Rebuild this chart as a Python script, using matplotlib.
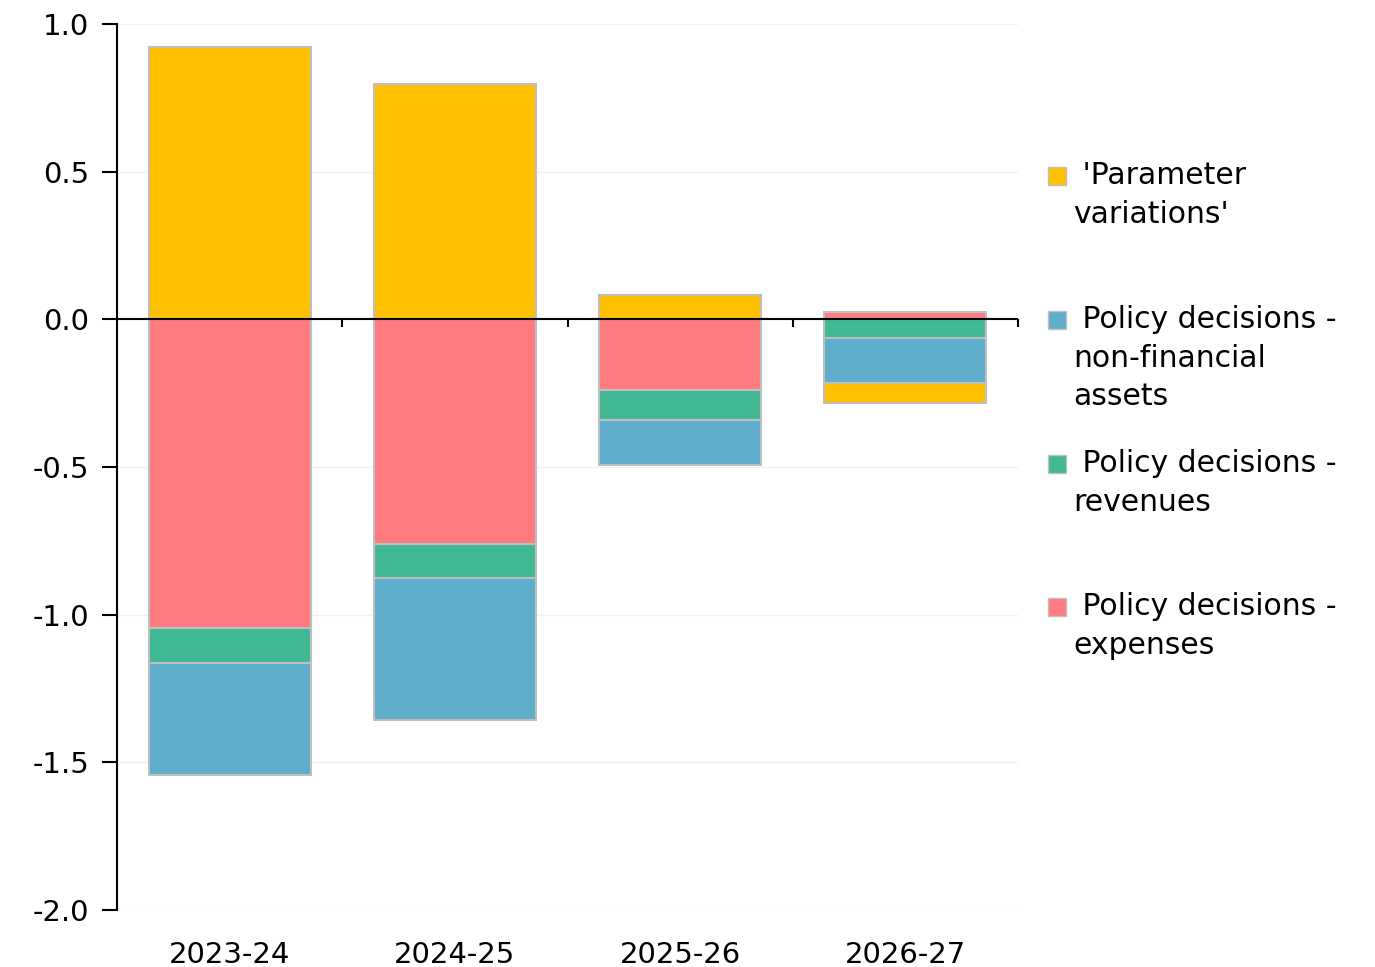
import numpy as np
import matplotlib.pyplot as plt
from matplotlib.patches import Rectangle

plt.rcParams['font.family'] = ['DejaVu Sans']

years = ['2023-24', '2024-25', '2025-26', '2026-27']
# series in stacking order (Excel series order)
expenses = [-1.044, -0.760, -0.240, 0.024]
revenues = [-0.118, -0.115, -0.101, -0.064]
nonfin_assets = [-0.382, -0.480, -0.152, -0.152]
param_var = [0.922, 0.797, 0.084, -0.068]

series = [expenses, revenues, nonfin_assets, param_var]
colors = ['#FF7B80', '#41B894', '#5FAECB', '#FFC000']
labels = [' Policy decisions -\nexpenses',
          ' Policy decisions -\nrevenues',
          ' Policy decisions -\nnon-financial\nassets',
          " 'Parameter\nvariations'"]

fig = plt.figure(figsize=(13.75, 9.67), dpi=100)
ax = fig.add_axes([117 / 1375, 1 - 910 / 967, (1018 - 117) / 1375, (910 - 24) / 967])

x = np.arange(len(years))
pos_base = np.zeros(len(years))
neg_base = np.zeros(len(years))
for vals, c in zip(series, colors):
    vals = np.array(vals)
    base = np.where(vals >= 0, pos_base, neg_base)
    ax.bar(x, vals, bottom=base, width=0.72, color=c, edgecolor='#BFBFBF', linewidth=1.5, zorder=2)
    pos_base = pos_base + np.where(vals >= 0, vals, 0)
    neg_base = neg_base + np.where(vals < 0, vals, 0)

ax.set_xlim(-0.5, len(years) - 0.5)
ax.set_ylim(-2.0, 1.0)
ax.set_yticks(np.arange(-2.0, 1.01, 0.5))
ax.set_yticklabels(['%.1f' % v for v in np.arange(-2.0, 1.01, 0.5)])
ax.grid(axis='y', color='#F2F2F2', linewidth=1, zorder=0)
ax.set_axisbelow(True)

ax.set_xticks(x)
ax.set_xticklabels(years)
ax.tick_params(axis='x', length=0, pad=22, labelsize=21)
ax.tick_params(axis='y', length=11, width=1.5, direction='out', pad=9, labelsize=21)

for s in ['top', 'right', 'bottom']:
    ax.spines[s].set_visible(False)
ax.spines['left'].set_linewidth(1.5)

# zero line with category boundary ticks
ax.axhline(0, color='black', linewidth=1.5, zorder=3)
ax.vlines(x + 0.5, -0.027, 0, color='black', linewidth=1.5, zorder=3, clip_on=False)

# legend, drawn in reverse series order with equal slots
leg_y = [176, 320, 464, 607]
for i, k in enumerate(range(len(series) - 1, -1, -1)):
    y = 1 - leg_y[i] / 967
    fig.patches.append(Rectangle((1048 / 1375, y - 9 / 967), 18 / 1375, 18 / 967,
                                 transform=fig.transFigure, facecolor=colors[k],
                                 edgecolor='#BFBFBF', linewidth=1))
    fig.text(1073 / 1375, y + 15 / 967, labels[k], fontsize=21.5, va='top', ha='left',
             linespacing=1.42)

fig.savefig('out.png', dpi=100)
